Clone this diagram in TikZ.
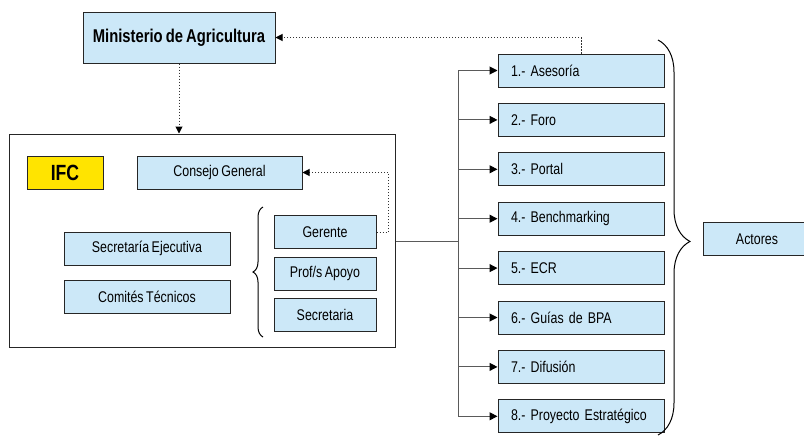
\documentclass[tikz,border=0pt]{standalone}
\usepackage{fontspec}
\setmainfont{Liberation Sans}[FakeStretch=0.8, WordSpace=0.75]
\usetikzlibrary{positioning,decorations.pathreplacing,arrows.meta}
\definecolor{celeste}{RGB}{204,232,248}
\definecolor{amarillo}{RGB}{255,228,0}
\definecolor{linea}{RGB}{90,90,90}
\tikzset{node distance=15.4pt, auto,
  caja/.style={draw=black!85, fill=celeste, line width=1pt, minimum height=33pt,
    inner sep=0pt, font=\fontsize{15.5}{18}\selectfont},
  accion/.style={caja, text width=140pt, inner xsep=13pt, align=left},
  punteado/.style={draw=black!80, line width=1pt, dash pattern=on 1.5pt off 1.5pt,
    -{Triangle[length=7pt,width=7pt,color=black]}},
  rama/.style={draw=linea, line width=1pt},
  flecha/.style={rama, -{Triangle[length=8pt,width=8pt,color=black]}},
  llave/.style={draw=black, line width=1pt, decorate}}

\begin{document}
\begin{tikzpicture}[x=1pt,y=-1pt]
\useasboundingbox (0,0) rectangle (804,437);
% ministerio e IFC
\node[caja, minimum width=192pt, minimum height=51pt, font=\fontsize{18.5}{21}\selectfont\bfseries] (min) at (179,37.5) {Ministerio de Agricultura};
\node[draw=black!85, line width=1pt, minimum width=386pt, minimum height=213pt, inner sep=0pt] (ifcbox) at (202,240.5) {};
\node[caja, fill=amarillo, minimum width=76pt, font=\fontsize{22}{24}\selectfont\bfseries] (ifc) at (65,172.5) {IFC};
\node[caja, minimum width=165pt] (consejo) at (219.5,172.5) {Consejo General};
\node[caja, minimum width=166pt] (secej) at (147,248.5) {Secretaría Ejecutiva};
\node[caja, minimum width=166pt, below=14pt of secej] (comites) {Comités Técnicos};
\node[caja, minimum width=102pt] (gerente) at (325,232) {Gerente};
\node[caja, minimum width=102pt, below=7.5pt of gerente] (apoyo) {Prof/s Apoyo};
\node[caja, minimum width=102pt, below=7.5pt of apoyo] (secre) {Secretaria};
\draw[llave, decoration={brace, amplitude=10pt}] (263,337) -- (263,207);
% acciones
\node[accion] (a1) at (581,70.5) {1.- Asesoría};
\node[accion, below=of a1] (a2) {2.- Foro};
\node[accion, below=of a2] (a3) {3.- Portal};
\node[accion, below=of a3] (a4) {4.- Benchmarking};
\node[accion, below=of a4] (a5) {5.- ECR};
\node[accion, below=of a5] (a6) {6.- Guías de BPA};
\node[accion, below=of a6] (a7) {7.- Difusión};
\node[accion, below=of a7] (a8) {8.- Proyecto Estratégico};
\draw[llave, decoration={brace, amplitude=32pt, aspect=0.51}] (658,40) -- (658,435);
\node[caja, minimum width=108pt] (actores) at (757,239) {Actores};
% conectores
\draw[punteado] (min.south) -- (min.south |- ifcbox.north);
\draw[punteado] (a1.north) |- (min.east);
\draw[punteado] (gerente.east) -- ++(12,0) |- (consejo.east);
\coordinate (tronco) at (458,241.5);
\draw[rama] (ifcbox.east |- tronco) -- (tronco);
\draw[rama] (tronco |- a1.west) -- (tronco |- a8.west);
\draw[flecha] (tronco |- a1.west) -- (a1.west);
\draw[flecha] (tronco |- a2.west) -- (a2.west);
\draw[flecha] (tronco |- a3.west) -- (a3.west);
\draw[flecha] (tronco |- a4.west) -- (a4.west);
\draw[flecha] (tronco |- a5.west) -- (a5.west);
\draw[flecha] (tronco |- a6.west) -- (a6.west);
\draw[flecha] (tronco |- a7.west) -- (a7.west);
\draw[flecha] (tronco |- a8.west) -- (a8.west);
\end{tikzpicture}
\end{document}
